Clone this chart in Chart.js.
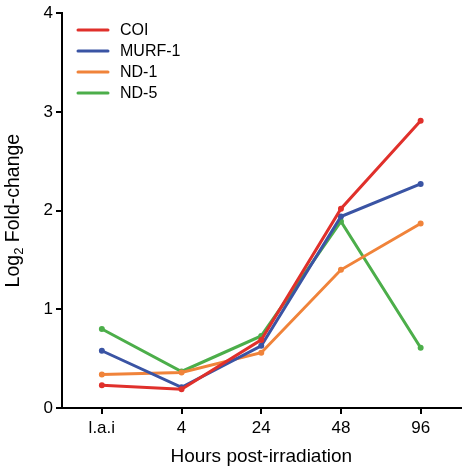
<!DOCTYPE html>
<html>
<head>
<meta charset="utf-8">
<script src="https://cdn.jsdelivr.net/npm/chart.js@4/dist/chart.umd.min.js"></script>
<style>
  html,body{margin:0;padding:0;background:#fff;}
  #wrap{width:465px;height:472px;position:relative;}
</style>
</head>
<body>
<div id="wrap"><canvas id="c"></canvas></div>
<script>
// --- Data ---
const hours = ['l.a.i', '4', '24', '48', '96'];
const coi   = [0.23, 0.19, 0.69, 2.02, 2.91];
const murf1 = [0.58, 0.21, 0.63, 1.94, 2.27];
const nd1   = [0.34, 0.36, 0.56, 1.40, 1.87];
const nd5   = [0.80, 0.37, 0.73, 1.89, 0.61];
const yTicks = [0, 1, 2, 3, 4];

const FONT = 'Liberation Sans, Arial, Helvetica, sans-serif';

function series(label, data, color){
  return {label:label, data:data, borderColor:color, backgroundColor:color,
    borderWidth:3, pointRadius:1.5, pointHoverRadius:1.5, tension:0};
}

// legend + y title drawn by hand
const extras = {
  id:'extras',
  afterDraw(chart){
    const ctx = chart.ctx;
    ctx.save();
    // legend
    chart.data.datasets.forEach((ds,i)=>{
      const y = 30 + i*21;
      ctx.strokeStyle = ds.borderColor;
      ctx.lineWidth = 3;
      ctx.lineCap = 'round';
      ctx.beginPath(); ctx.moveTo(78,y); ctx.lineTo(108,y); ctx.stroke();
      ctx.fillStyle = '#000';
      ctx.font = '16px ' + FONT;
      ctx.textBaseline = 'middle';
      ctx.textAlign = 'left';
      ctx.fillText(ds.label, 120, y+1);
    });
    // y axis title with subscript
    const area = chart.chartArea;
    ctx.translate(19, (area.top+area.bottom)/2);
    ctx.rotate(-Math.PI/2);
    ctx.fillStyle = '#000';
    ctx.textBaseline = 'alphabetic';
    const a = 'Log', b = 'Fold-change';
    ctx.font = '19.5px ' + FONT; const wa = ctx.measureText(a).width;
    ctx.font = '13px ' + FONT; const ws = ctx.measureText('2').width;
    ctx.font = '19.5px ' + FONT; const wb = ctx.measureText(' ' + b).width;
    let x = -(wa+ws+wb)/2;
    ctx.fillText(a, x, 0); x += wa;
    ctx.font = '13px ' + FONT; ctx.fillText('2', x, 4); x += ws;
    ctx.font = '19.5px ' + FONT; ctx.fillText(' ' + b, x, 0);
    ctx.restore();
  }
};

new Chart(document.getElementById('c').getContext('2d'), {
  type:'line',
  data:{labels:hours, datasets:[
    series('COI', coi, '#e0302b'),
    series('MURF-1', murf1, '#3a54a4'),
    series('ND-1', nd1, '#f0833a'),
    series('ND-5', nd5, '#4cae4a')
  ]},
  options:{
    responsive:true, maintainAspectRatio:false, animation:false,
    layout:{padding:{top:11, right:4, left:0, bottom:0}},
    plugins:{legend:{display:false}, tooltip:{enabled:false}},
    scales:{
      x:{
        offset:true,
        grid:{drawOnChartArea:false, drawTicks:true, tickLength:6, color:'#000', lineWidth:2, offset:false},
        border:{color:'#000', width:2},
        ticks:{color:'#000', font:{family:FONT, size:17}, padding:4, maxRotation:0},
        title:{display:true, text:'Hours post-irradiation', color:'#000', font:{family:FONT, size:19}, padding:{top:5}},
        afterFit(s){ s.height = 64; }
      },
      y:{
        min:0, max:4,
        afterBuildTicks(s){ s.ticks = yTicks.map(v=>({value:v})); },
        grid:{drawOnChartArea:false, drawTicks:true, tickLength:6, color:'#000', lineWidth:2},
        border:{color:'#000', width:2},
        ticks:{color:'#000', font:{family:FONT, size:17}, padding:3},
        afterFit(s){ s.width = 62; }
      }
    }
  },
  plugins:[extras]
});
</script>
</body>
</html>
